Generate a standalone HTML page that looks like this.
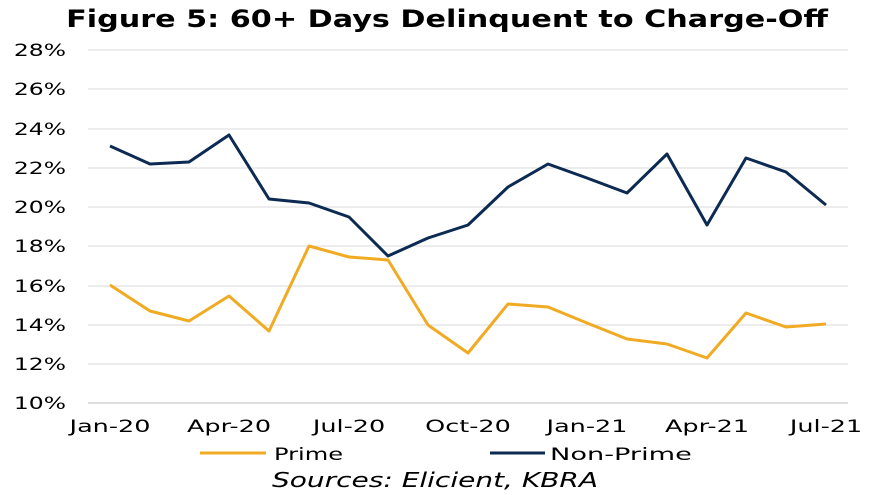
<!DOCTYPE html>
<html><head><meta charset="utf-8"><style>
html,body{margin:0;padding:0;background:#fff;width:880px;height:495px;overflow:hidden}
</style></head><body>
<svg width="880" height="495" viewBox="0 0 880 495" xmlns="http://www.w3.org/2000/svg" font-family="DejaVu Sans, Liberation Sans, sans-serif">
<text transform="translate(447,27) scale(1.26,1)" text-anchor="middle" font-size="24" font-weight="bold" fill="#000">Figure 5: 60+ Days Delinquent to Charge-Off</text>
<g stroke="#d9d9d9" stroke-width="1">
<line x1="88" x2="848" y1="50" y2="50"/><line x1="88" x2="848" y1="89" y2="89"/>
<line x1="88" x2="848" y1="129" y2="129"/><line x1="88" x2="848" y1="168" y2="168"/>
<line x1="88" x2="848" y1="207" y2="207"/><line x1="88" x2="848" y1="246" y2="246"/>
<line x1="88" x2="848" y1="286" y2="286"/><line x1="88" x2="848" y1="325" y2="325"/>
<line x1="88" x2="848" y1="364" y2="364"/>
</g>
<line x1="88" x2="848" y1="403" y2="403" stroke="#bfbfbf"/>
<g font-size="17" fill="#000" text-anchor="end">
<text transform="translate(66,56) scale(1.38,1)">28%</text><text transform="translate(66,95) scale(1.38,1)">26%</text>
<text transform="translate(66,135) scale(1.38,1)">24%</text><text transform="translate(66,174) scale(1.38,1)">22%</text>
<text transform="translate(66,213) scale(1.38,1)">20%</text><text transform="translate(66,252) scale(1.38,1)">18%</text>
<text transform="translate(66,292) scale(1.38,1)">16%</text><text transform="translate(66,331) scale(1.38,1)">14%</text>
<text transform="translate(66,370) scale(1.38,1)">12%</text><text transform="translate(66,409) scale(1.38,1)">10%</text>
</g>
<g font-size="17" fill="#000" text-anchor="middle">
<text transform="translate(110,432) scale(1.5,1)">Jan-20</text><text transform="translate(229,432) scale(1.5,1)">Apr-20</text>
<text transform="translate(349,432) scale(1.5,1)">Jul-20</text><text transform="translate(468,432) scale(1.5,1)">Oct-20</text>
<text transform="translate(587,432) scale(1.5,1)">Jan-21</text><text transform="translate(707,432) scale(1.5,1)">Apr-21</text>
<text transform="translate(826,432) scale(1.5,1)">Jul-21</text>
</g>
<polyline fill="none" stroke="#0c2a52" stroke-width="3" stroke-linejoin="round" points="110,146 150,164 189,162 229,135 269,199 309,203 349,217 388,256 428,238 468,225 508,187 548,164 587,178 627,193 667,154 707,225 746,158 786,172 826,205"/>
<polyline fill="none" stroke="#f0ab23" stroke-width="3" stroke-linejoin="round" points="110,285 150,311 189,321 229,296 269,331 309,246 349,257 388,260 428,325 468,353 508,304 548,307 587,323 627,339 667,344 707,358 746,313 786,327 826,324"/>
<line x1="200" x2="266" y1="453" y2="453" stroke="#f0ab23" stroke-width="3"/>
<text transform="translate(274,460) scale(1.42,1)" font-size="17">Prime</text>
<line x1="490" x2="545" y1="453" y2="453" stroke="#0c2a52" stroke-width="3"/>
<text transform="translate(550,460) scale(1.6,1)" font-size="17">Non-Prime</text>
<text transform="translate(272,487) scale(1.4,1)" font-size="20" font-style="italic">Sources:  Elicient, KBRA</text>
</svg>
</body></html>
